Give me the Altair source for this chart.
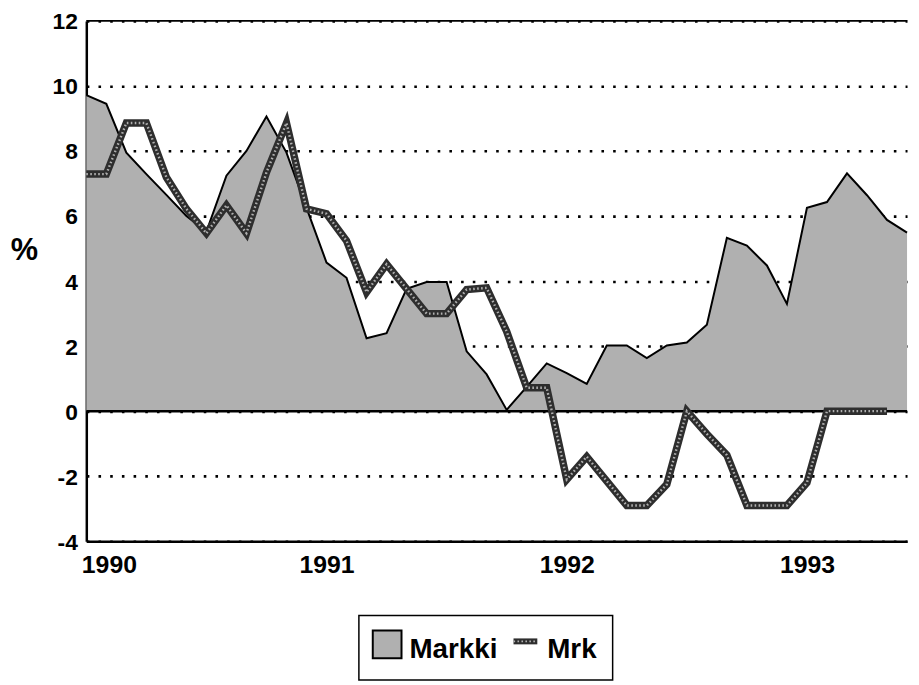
import altair as alt
import pandas as pd

# ---- data ----
months = list(range(42))                     # month index, 0 = Jan 1990
year_labels = ["1990", "1991", "1992", "1993"]
year_ticks = [0, 12, 24, 36]
y_ticks = [-4, -2, 0, 2, 4, 6, 8, 10, 12]

markki = [9.72, 9.45, 7.95, 7.29, 6.65, 6.00, 5.52, 7.24, 8.00, 9.06,
          7.95, 6.25, 4.57, 4.10, 2.24, 2.40, 3.76, 3.97, 3.97, 1.84,
          1.13, 0.04, 0.75, 1.47, 1.17, 0.84, 2.02, 2.02, 1.63, 2.02,
          2.11, 2.66, 5.33, 5.09, 4.48, 3.30, 6.25, 6.43, 7.31, 6.64,
          5.88, 5.49]
mrk = [7.29, 7.29, 8.86, 8.86, 7.19, 6.22, 5.47, 6.33, 5.47, 7.34,
       8.86, 6.22, 6.07, 5.24, 3.66, 4.52, 3.76, 3.00, 3.00, 3.74,
       3.79, 2.45, 0.72, 0.72, -2.10, -1.40, -2.15, -2.90, -2.90, -2.25,
       0.00, -0.70, -1.35, -2.90, -2.90, -2.90, -2.20, 0.00, 0.00, 0.00,
       0.00, None]

legend_labels = ["Markki", "Mrk"]

df = pd.DataFrame({"m": months, "markki": markki, "mrk": mrk})
one = pd.DataFrame({"k": [0]})

FONT = "Liberation Sans"
AREA_FILL = "#b0b0b0"
W, H = 828, 525

label_expr = "[" + ",".join("'%s'" % y for y in year_labels) + "][round(datum.value/12)]"

x_scale = alt.Scale(domain=[0, 41], nice=False, zero=False)
y_scale = alt.Scale(domain=[-4, 12], nice=False, zero=False)

x_axis = alt.Axis(values=year_ticks, labelExpr=label_expr, title=None,
                  tickSize=0, labelPadding=12, labelFontSize=25,
                  labelFontWeight="bold", labelFont=FONT, labelColor="black",
                  labelFlush=True, labelFlushOffset=5,
                  domainColor="black", domainWidth=2.5, grid=False)
y_axis = alt.Axis(values=y_ticks, title="%", titleAngle=0,
                  labelExpr="'' + datum.value",
                  titleX=-63, titleY=232, titleAlign="center",
                  titleBaseline="middle", titleFontSize=31,
                  titleFontWeight="bold", titleFont=FONT,
                  titleColor="black",
                  tickSize=0, labelPadding=9, labelFontSize=23,
                  labelOffset=1,
                  labelFontWeight="bold", labelFont=FONT,
                  labelColor="black",
                  domainColor="black", domainWidth=2.5,
                  grid=True, gridColor="black", gridOpacity=1,
                  gridWidth=2.6, gridDash=[2.6, 9.2])


def xe():
    return alt.X("m:Q", scale=x_scale, axis=x_axis)


def ye(field):
    return alt.Y(field + ":Q", scale=y_scale, axis=y_axis)


area = alt.Chart(df).mark_area(color=AREA_FILL, opacity=1).encode(
    x=xe(), y=ye("markki")
)
markki_line = alt.Chart(df).mark_line(color="black", strokeWidth=2).encode(
    x=xe(), y=ye("markki")
)

zero_rule = alt.Chart(one).mark_rule(color="black", strokeWidth=2.5).encode(
    y=alt.datum(0)
)
top_rule = alt.Chart(one).mark_rule(color="black", strokeWidth=2).encode(
    y=alt.datum(12)
)

mrk_base = alt.Chart(df).mark_line(color="#2e2e2e", strokeWidth=7.5).encode(
    x=xe(), y=ye("mrk")
)
mrk_dots = alt.Chart(df).mark_line(color="#b0b0b0", strokeWidth=2.4,
                                   strokeDash=[1.6, 2.4]).encode(
    x=xe(), y=ye("mrk")
)

# ---- legend (drawn below the plot) ----
leg_box = alt.Chart(one).mark_rect(fill="white", fillOpacity=0, stroke="black",
                                   strokeWidth=1.5).encode(
    x=alt.value(275), x2=alt.value(531), y=alt.value(600), y2=alt.value(665)
)
leg_swatch = alt.Chart(one).mark_rect(fill=AREA_FILL, stroke="black",
                                      strokeWidth=2).encode(
    x=alt.value(289), x2=alt.value(318), y=alt.value(615), y2=alt.value(643)
)
leg_text1 = alt.Chart(one).mark_text(text=legend_labels[0], align="left",
                                     baseline="alphabetic", fontSize=28,
                                     fontWeight="bold", font=FONT,
                                     color="black").encode(
    x=alt.value(326), y=alt.value(643)
)
leg_line = alt.Chart(one).mark_rule(color="#2e2e2e", strokeWidth=6).encode(
    x=alt.value(431), x2=alt.value(455), y=alt.value(626)
)
leg_line_dots = alt.Chart(one).mark_rule(color="#b0b0b0", strokeWidth=2,
                                         strokeDash=[1.6, 2.4]).encode(
    x=alt.value(431), x2=alt.value(455), y=alt.value(626)
)
leg_text2 = alt.Chart(one).mark_text(text=legend_labels[1], align="left",
                                     baseline="alphabetic", fontSize=28,
                                     fontWeight="bold", font=FONT,
                                     color="black").encode(
    x=alt.value(465), y=alt.value(643)
)

chart = alt.layer(
    area, markki_line, zero_rule, top_rule, mrk_base, mrk_dots,
    leg_box, leg_swatch, leg_text1, leg_line, leg_line_dots, leg_text2,
).properties(
    width=W, height=H,
    autosize=alt.AutoSizeParams(type="none"),
    padding={"left": 79, "top": 10, "right": 4, "bottom": 141},
    background="white",
).configure_view(strokeWidth=0)

chart.save("out.html", embed_options={"renderer": "svg", "actions": False})
